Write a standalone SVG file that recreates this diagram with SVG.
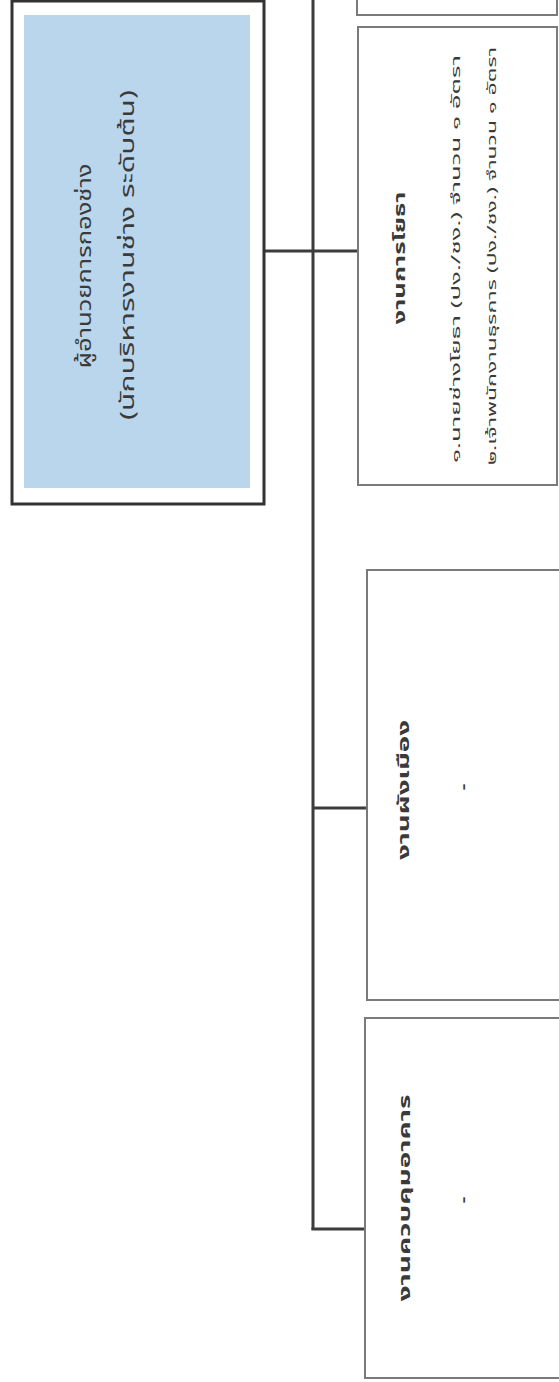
<svg xmlns="http://www.w3.org/2000/svg" width="559" height="1382" viewBox="0 0 559 1382">
<style>
.th{font-family:"Noto Sans Thai","Noto Sans","Liberation Sans",sans-serif;fill:#3a3a3a;text-anchor:middle;dominant-baseline:central}
.main{font-size:19px}
.title{font-size:15px;font-weight:bold}
.small{font-size:12px}
.dash{font-size:22px}
.box{fill:#fff;stroke:#7a7a7a;stroke-width:2}
.conn line{stroke:#3c3c3c;stroke-width:3}
</style>
<rect width="559" height="1382" fill="#fff"/>
<g class="conn">
<line x1="313" y1="0" x2="313" y2="1230"/>
<line x1="264" y1="251" x2="358" y2="251"/>
<line x1="313" y1="808" x2="367" y2="808"/>
<line x1="311.5" y1="1229" x2="365" y2="1229"/>
</g>
<g id="main">
<rect x="12" y="1" width="252" height="503" fill="#fff" stroke="#333" stroke-width="3"/>
<rect x="24" y="15" width="226" height="473" fill="#b9d6ec"/>
<text class="th main" transform="translate(85,266) rotate(-90)" textLength="205" lengthAdjust="spacingAndGlyphs">ผู้อำนวยการกองช่าง</text>
<text class="th main" transform="translate(128,255) rotate(-90)" textLength="330" lengthAdjust="spacingAndGlyphs">(นักบริหารงานช่าง ระดับต้น)</text>
</g>
<g id="top-partial">
<rect class="box" x="357" y="-20" width="200" height="35"/>
</g>
<g id="yotha">
<rect class="box" x="358" y="27" width="199" height="458"/>
<text class="th title" transform="translate(400,258) rotate(-90)" textLength="133" lengthAdjust="spacingAndGlyphs">งานการโยธา</text>
<text class="th small" transform="translate(456,259) rotate(-90)" textLength="408" lengthAdjust="spacingAndGlyphs">๑.นายช่างโยธา  (ปง./ชง.) จำนวน ๑ อัตรา</text>
<text class="th small" transform="translate(492,256) rotate(-90)" textLength="418" lengthAdjust="spacingAndGlyphs">๒.เจ้าพนักงานธุรการ (ปง./ชง.) จำนวน ๑ อัตรา</text>
</g>
<g id="phangmueang">
<rect class="box" x="367" y="570" width="194" height="430"/>
<text class="th title" transform="translate(404,790) rotate(-90)" textLength="140" lengthAdjust="spacingAndGlyphs">งานผังเมือง</text>
<text class="th dash" transform="translate(463,787) rotate(-90)">-</text>
</g>
<g id="khuapkhum">
<rect class="box" x="365" y="1018" width="196" height="360"/>
<text class="th title" transform="translate(405,1198) rotate(-90)" textLength="207" lengthAdjust="spacingAndGlyphs">งานควบคุมอาคาร</text>
<text class="th dash" transform="translate(463,1200) rotate(-90)">-</text>
</g>
</svg>
